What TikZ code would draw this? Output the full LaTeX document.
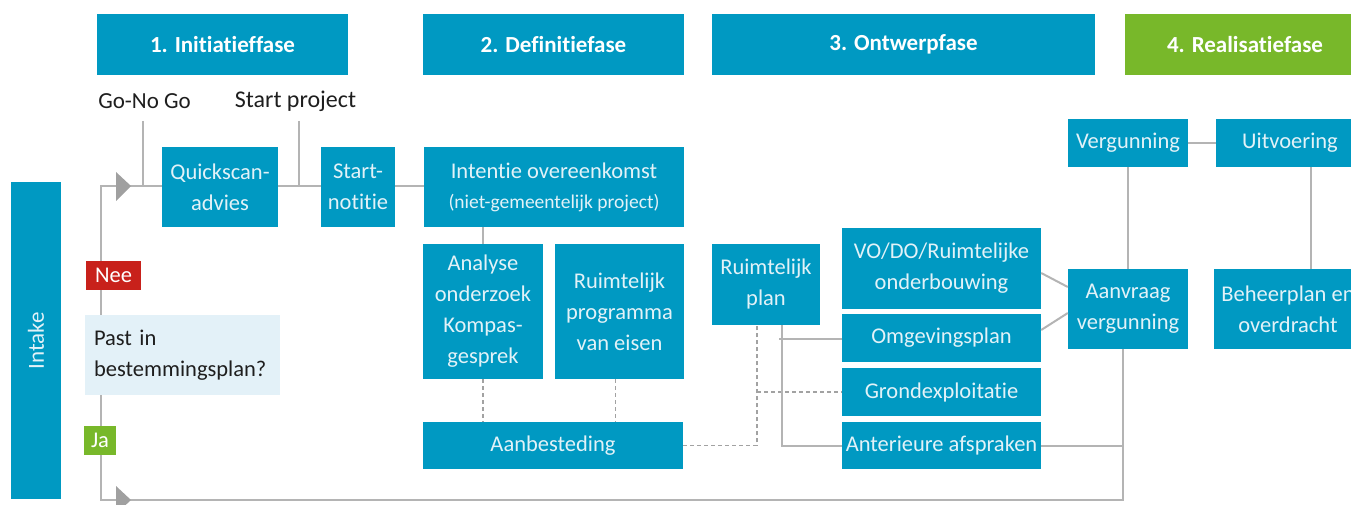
\documentclass[tikz,border=0pt]{standalone}
\usepackage{fontspec}
\setmainfont{Carlito}[Ligatures={NoCommon,NoRare,NoContextual}]
\definecolor{rblue}{HTML}{0099C2}
\definecolor{rgreen}{HTML}{78B82A}
\definecolor{rred}{HTML}{C8211B}
\definecolor{rlight}{HTML}{E3F1F8}
\definecolor{rline}{HTML}{B4B4B4}
\definecolor{rtext}{HTML}{E2F2F8}
\definecolor{rdark}{HTML}{1E1E1E}
\definecolor{rtri}{HTML}{A0A0A0}
\begin{document}
\begin{tikzpicture}[x=1pt,y=-1pt,
  bx/.style={fill=rblue,text=rtext,inner sep=0pt,align=center,font=\fontsize{22.5}{31}\selectfont},
  hd/.style={fill=rblue,text=white,inner sep=0pt,align=center,font=\fontsize{23}{27}\selectfont\bfseries,minimum height=61pt},
  tag/.style={text=white,inner sep=0pt,font=\fontsize{22.5}{26}\selectfont,minimum height=29pt},
  lbl/.style={text=rdark,inner sep=0pt,font=\fontsize{23}{27}\selectfont},
  conn/.style={draw=rline,line width=2pt},
  dconn/.style={draw=rline!90!black,line width=1.5pt,dash pattern=on 4pt off 3pt},
  tri/.style={fill=rtri}]
\clip (0,0) rectangle (1351,505);
% named points for connectors
\coordinate (loopR) at (1123,500);
\coordinate (loopL) at (101,500);
\coordinate (loopT) at (101,186);
\coordinate (gng) at (143,121);
\coordinate (sp) at (299,121);
\coordinate (rpS) at (782,325);
\coordinate (rpD) at (757,325);
\coordinate (omgJ) at (779,339);
\coordinate (uitS) at (1311,167);
% headers
\node[hd,minimum width=251pt] (h1) at (222.5,44.5) {1. Initiatieffase};
\node[hd,minimum width=261pt] (h2) at (553.5,44.5) {2. Definitiefase};
\node[hd,minimum width=383pt] (h3) at (903.5,44.5) {3. Ontwerpfase};
\node[hd,minimum width=240pt,fill=rgreen] (h4) at (1245,44.5) {4. Realisatiefase};
% intake
\node[bx,minimum width=50pt,minimum height=317pt] (intake) at (36,340.5) {};
\node[text=rtext,rotate=90,inner sep=0pt,font=\fontsize{23}{27}\selectfont] (intakeT) at (intake.center) {Intake};
% labels
\node[lbl] (gonogoT) at (144.5,101) {Go-No Go};
\node[lbl,font=\fontsize{24}{28}\selectfont] (startpT) at (295.5,101) {Start project};
% loop line
\draw[conn] ([xshift=-5pt]1128,349) -- (loopR) -- (loopL) -- (loopT) -- (162,186);
\fill[tri] (116,172) -- (131,186) -- (116,201) -- cycle;
\fill[tri] (116,486) -- (131,500) -- (116,514) -- cycle;
\draw[conn] (gng) -- (gng |- loopT);
\draw[conn] (sp) -- (sp |- loopT);
% initiatie boxes
\node[bx,minimum width=116pt,minimum height=80pt] (quick) at (220,187) {Quickscan-\\advies};
\node[bx,minimum width=74pt,minimum height=80pt] (startn) at (358,187) {Start-\\notitie};
\node[bx,minimum width=260pt,minimum height=80pt] (intentie) at (554,187) {Intentie overeenkomst\\[-1pt]{\fontsize{19.5}{24}\selectfont(niet-gemeentelijk project)}};
\draw[conn] (quick.east |- loopT) -- (startn.west |- loopT);
\draw[conn] (startn.east |- loopT) -- (intentie.west |- loopT);
% definitie
\node[bx,minimum width=120pt,minimum height=135pt] (analyse) at (483,311.5) {Analyse\\onderzoek\\Kompas-\\gesprek};
\node[bx,minimum width=129pt,minimum height=135pt] (rpve) at (619.5,311.5) {Ruimtelijk\\programma\\van eisen};
\node[bx,minimum width=260pt,minimum height=47pt] (aanbest) at (553,445.5) {Aanbesteding};
\draw[conn] (analyse.north) -- (analyse.north |- intentie.south);
\draw[dconn] (analyse.south) -- (analyse.south |- aanbest.north);
\draw[dconn] ([xshift=-4pt]rpve.south) -- ([xshift=-4pt]rpve.south |- aanbest.north);
% ontwerp
\node[bx,minimum width=108pt,minimum height=81pt] (rplan) at (766,284.5) {Ruimtelijk\\plan};
\node[bx,minimum width=199pt,minimum height=81pt] (vodo) at (941.5,268.5) {VO/DO/Ruimtelijke\\onderbouwing};
\node[bx,minimum width=199pt,minimum height=48pt] (omgev) at (941.5,338) {Omgevingsplan};
\node[bx,minimum width=199pt,minimum height=48pt] (grond) at (941.5,392) {Grondexploitatie};
\node[bx,minimum width=199pt,minimum height=47pt] (anter) at (941.5,445.5) {Anterieure afspraken};
\draw[dconn] (aanbest.east) -- (aanbest.east -| rpD) -- (rpD);
\draw[dconn] (rpD |- grond.west) -- (grond.west);
\draw[conn] (rpS) -- (rpS |- anter.west) -- (anter.west);
\draw[conn] (omgJ) -- (omgev.west |- omgJ);
\draw[conn] (anter.east) -- (anter.east -| loopR);
% realisatie
\node[bx,minimum width=120pt,minimum height=48pt] (vergun) at (1128,143) {Vergunning};
\node[bx,minimum width=148pt,minimum height=48pt] (uitv) at (1290,143) {Uitvoering};
\node[bx,minimum width=120pt,minimum height=80pt] (aanvr) at (1128,309) {Aanvraag\\vergunning};
\node[bx,minimum width=148pt,minimum height=80pt] (beheer) at (1288,309) {Beheerplan en\\overdracht};
\draw[conn] (vergun.east) -- (uitv.west);
\draw[conn] (vergun.south) -- (aanvr.north);
\draw[conn] (uitS) -- (uitS |- beheer.north);
\draw[conn] (vodo.east |- 0,273) -- (aanvr.west |- 0,287);
\draw[conn] (omgev.east |- 0,330) -- (aanvr.west |- 0,313);
% decision
\node[tag,fill=rred,minimum width=55pt] (nee) at (113.5,275.5) {Nee};
\node[fill=rlight,text=rdark,inner xsep=9pt,inner ysep=0pt,text width=177pt,minimum height=80pt,align=left,font=\fontsize{22.5}{31}\selectfont] (past) at (182.5,355) {Past in\\bestemmingsplan?};
\node[tag,fill=rgreen,minimum width=32pt] (ja) at (100,440.5) {Ja};
\end{tikzpicture}
\end{document}
